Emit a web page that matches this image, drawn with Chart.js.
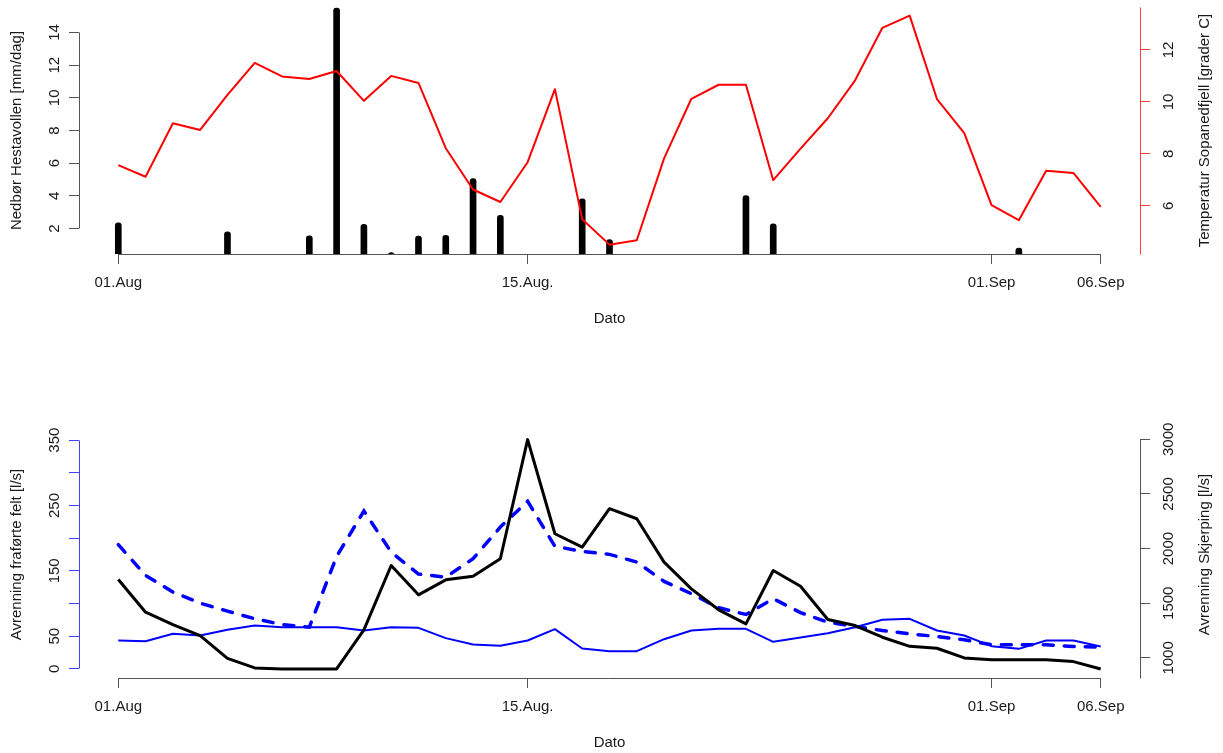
<!DOCTYPE html>
<html lang="no">
<head>
<meta charset="UTF-8">
<title>Nedbør, temperatur og avrenning</title>
<style>
  html, body { margin: 0; padding: 0; background: #fff; }
  #wrap { position: relative; width: 1223px; height: 753px; }
  canvas { position: absolute; left: 0; }
  #topChart { top: 0; }
  #bottomChart { top: 376px; }
</style>
</head>
<body>
<div id="wrap">
  <canvas id="topChart" width="1223" height="376"></canvas>
  <canvas id="bottomChart" width="1223" height="377"></canvas>
</div>

<script src="https://cdn.jsdelivr.net/npm/chart.js@4.4.0/dist/chart.umd.min.js"></script>
<script>
// dag-indeks (0 = 01.Aug)
const dayIndex = [0, 1, 2, 3, 4, 5, 6, 7, 8, 9, 10, 11, 12, 13, 14, 15, 16, 17, 18,
                  19, 20, 21, 22, 23, 24, 25, 26, 27, 28, 29, 30, 31, 32, 33, 34, 35, 36];
const tickDays = [0, 15, 32, 36];
const tickLabels = ['01.Aug', '15.Aug.', '01.Sep', '06.Sep'];

// øvre panel
const precip = [2.35, 0, 0, 0, 1.8, 0, 0, 1.55, 15.5, 2.25, 0.53, 1.53, 1.59, 5.06, 2.8, 0, 0, 3.82, 1.33,
                0, 0, 0, 0, 4.02, 2.29, 0, 0, 0, 0, 0, 0, 0, 0, 0.8, 0, 0, 0];
const temperature = [7.57, 7.12, 9.18, 8.92, 10.27, 11.5, 10.98, 10.88, 11.19, 10.04, 11.0, 10.73, 8.22,
                     6.63, 6.15, 7.68, 10.49, 5.49, 4.51, 4.68, 7.83, 10.12, 10.66, 10.66, 6.99, 8.2,
                     9.37, 10.83, 12.85, 13.32, 10.11, 8.8, 6.03, 5.45, 7.35, 7.27, 5.96];
const precipTicks = [2, 4, 6, 8, 10, 12, 14];
const tempTicks = [6, 8, 10, 12];

// nedre panel
const runoffObs = [43.4, 42.3, 53.6, 51, 59.8, 66.4, 63.8, 63.8, 63.8, 58.7, 63.8, 62.8, 47, 37.2, 35.2,
                   43.4, 60.7, 31.1, 27, 27, 45.4, 58.7, 61.3, 61.3, 41.4, 48, 54.6, 63.8, 75.1, 76.6,
                   58.7, 51, 34.7, 30.6, 43.4, 43.4, 34.2];
const runoffSim = [190, 143, 117.5, 100.6, 88.3, 76.6, 67.9, 63.8, 172, 241.6, 178.7, 145, 140.4, 168.6,
                   217, 256.4, 187.5, 179.8, 175.2, 163.4, 133.8, 115, 93.5, 83.2, 107.3, 86, 71.4, 64.8,
                   58.7, 53.6, 49.5, 44.4, 36.8, 36.8, 36.8, 34.2, 33.1];
const runoffSkjerping = [1717, 1418, 1305, 1204, 996, 908, 899, 899, 899, 1256, 1845, 1577, 1714, 1747,
                         1907, 2997, 2136, 2013, 2365, 2273, 1876, 1632, 1440, 1311, 1800, 1655, 1351,
                         1296, 1189, 1106, 1088, 1000, 984, 984, 984, 966, 899];
const runoffTicks = [0, 50, 100, 150, 200, 250, 300, 350];
const runoffTickLabels = ['0', '50', '', '150', '', '250', '', '350'];
const skjerpingTicks = [1000, 1500, 2000, 2500, 3000];

Chart.defaults.font.family = '"Liberation Sans", Arial, Helvetica, sans-serif';
Chart.defaults.font.size = 15;
Chart.defaults.color = '#1a1a1a';

const pts = arr => dayIndex.map((d, i) => ({x: d, y: arr[i]}));

function xAxis(height, titlePad) {
    return {
        type: 'linear', position: 'bottom', min: -1.44, max: 37.44, offset: false,
        afterBuildTicks: s => { s.ticks = tickDays.map(v => ({value: v})); },
        afterFit: s => { s.height = height; s.paddingLeft = 0; s.paddingRight = 0; },
        border: {display: false},
        grid: {drawOnChartArea: false, offset: false, tickLength: 10, tickColor: '#555'},
        ticks: {autoSkip: false, minRotation: 0, maxRotation: 0, padding: 10,
                callback: (v, i) => tickLabels[i]},
        title: {display: true, text: 'Dato', padding: {top: 0, bottom: titlePad}}
    };
}

function yAxis(o) {
    return {
        type: 'linear', position: o.position, min: o.min, max: o.max,
        afterBuildTicks: s => { s.ticks = o.ticks.map(v => ({value: v})); },
        afterFit: s => { s.width = o.width; s.paddingTop = 0; s.paddingBottom = 0; },
        border: {display: false},
        grid: {drawOnChartArea: false, tickLength: 10, tickColor: o.color},
        ticks: {autoSkip: false, minRotation: 90, maxRotation: 90, crossAlign: 'center', padding: o.pad,
                callback: (v, i) => o.labels ? o.labels[i] : String(v)},
        title: o.title ? {display: true, text: o.title, padding: {top: 8, bottom: 0}} : {display: false}
    };
}

// R-aktige aksestreker (bare mellom gitte verdier) og høyre aksetittel
function rAxes(lines, rightTitle) {
    return {
        id: 'rAxes',
        afterDraw(chart) {
            const {ctx, chartArea: ca} = chart;
            const al = p => Math.round(p - 0.5) + 0.5;
            ctx.save();
            ctx.lineWidth = 1;
            lines.forEach(l => {
                const s = chart.scales[l.scale];
                ctx.strokeStyle = l.color;
                ctx.beginPath();
                if (l.side === 'bottom') {
                    const y = al(ca.bottom);
                    ctx.moveTo(al(s.getPixelForValue(l.from)), y);
                    ctx.lineTo(al(s.getPixelForValue(l.to)), y);
                } else {
                    const x = al(l.side === 'left' ? ca.left : ca.right);
                    const y1 = l.from == null ? ca.bottom : s.getPixelForValue(l.from);
                    const y2 = l.to == null ? ca.top : s.getPixelForValue(l.to);
                    ctx.moveTo(x, al(y1));
                    ctx.lineTo(x, al(y2));
                }
                ctx.stroke();
            });
            ctx.translate(1205, (ca.top + ca.bottom) / 2);
            ctx.rotate(-Math.PI / 2);
            ctx.font = '15px "Liberation Sans", Arial, sans-serif';
            ctx.fillStyle = '#1a1a1a';
            ctx.textAlign = 'center';
            ctx.textBaseline = 'middle';
            ctx.fillText(rightTitle, 0, 0);
            ctx.restore();
        }
    };
}

new Chart(document.getElementById('topChart'), {
    type: 'line',
    data: {
        datasets: [{
            type: 'line',
            data: pts(temperature),
            yAxisID: 'yT',
            borderColor: '#ff0000',
            borderWidth: 2,
            pointRadius: 0,
            tension: 0,
            borderJoinStyle: 'round',
            order: 0
        }, {
            type: 'bar',
            data: dayIndex.map((d, i) => ({x: d, y: precip[i] > 0 ? precip[i] : null})),
            yAxisID: 'yP',
            backgroundColor: '#000',
            barThickness: 6,
            borderRadius: 3,
            order: 1
        }]
    },
    options: {
        responsive: false,
        devicePixelRatio: 1,
        animation: false,
        layout: {padding: {top: 7, left: 0, right: 0, bottom: 0}},
        plugins: {legend: {display: false}, tooltip: {enabled: false}},
        scales: {
            x: xAxis(122, 47.7),
            yP: yAxis({position: 'left', min: 0.44, max: 15.56, ticks: precipTicks, width: 79,
                       pad: 5.7, color: '#555', title: 'Nedbør Hestavollen [mm/dag]'}),
            yT: yAxis({position: 'right', min: 4.15, max: 13.65, ticks: tempTicks, width: 83,
                       pad: 11, color: '#ff4040'})
        }
    },
    plugins: [rAxes([
        {scale: 'x', side: 'bottom', from: 0, to: 36, color: '#555'},
        {scale: 'yP', side: 'left', from: 2, to: 14, color: '#555'},
        {scale: 'yT', side: 'right', from: null, to: null, color: '#ff4040'}
    ], 'Temperatur Sopanedfjell [grader C]')]
});

new Chart(document.getElementById('bottomChart'), {
    type: 'line',
    data: {
        datasets: [{
            data: pts(runoffSkjerping),
            yAxisID: 'yS',
            borderColor: '#000',
            borderWidth: 3,
            pointRadius: 0,
            tension: 0,
            borderJoinStyle: 'round',
            order: 0
        }, {
            data: pts(runoffSim),
            yAxisID: 'yR',
            borderColor: '#0000ff',
            borderWidth: 3.5,
            borderDash: [10, 11],
            borderCapStyle: 'round',
            pointRadius: 0,
            tension: 0,
            order: 1
        }, {
            data: pts(runoffObs),
            yAxisID: 'yR',
            borderColor: '#0000ff',
            borderWidth: 2,
            pointRadius: 0,
            tension: 0,
            borderJoinStyle: 'round',
            order: 2
        }]
    },
    options: {
        responsive: false,
        devicePixelRatio: 1,
        animation: false,
        layout: {padding: {top: 55, left: 0, right: 0, bottom: 0}},
        plugins: {legend: {display: false}, tooltip: {enabled: false}},
        scales: {
            x: xAxis(75, 1.3),
            yR: yAxis({position: 'left', min: -14, max: 364, ticks: runoffTicks, labels: runoffTickLabels,
                       width: 79, pad: 1.5, color: '#4040ff', title: 'Avrenning fraførte felt [l/s]'}),
            yS: yAxis({position: 'right', min: 816, max: 3076, ticks: skjerpingTicks, width: 83,
                       pad: 2.3, color: '#555'})
        }
    },
    plugins: [rAxes([
        {scale: 'x', side: 'bottom', from: 0, to: 36, color: '#555'},
        {scale: 'yR', side: 'left', from: 0, to: 350, color: '#4040ff'},
        {scale: 'yS', side: 'right', from: null, to: 3000, color: '#555'}
    ], 'Avrenning Skjerping [l/s]')]
});
</script>
</body>
</html>
